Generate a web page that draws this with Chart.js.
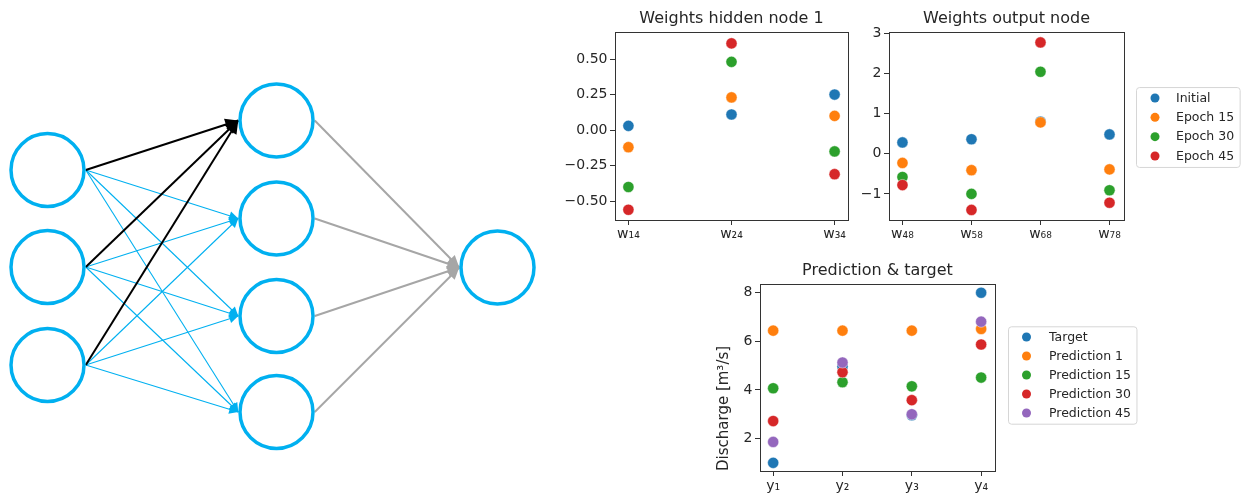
<!DOCTYPE html>
<html>
<head>
<meta charset="utf-8">
<script src="https://cdn.jsdelivr.net/npm/chart.js@4.4.1/dist/chart.umd.min.js"></script>
<style>
  html, body { margin: 0; padding: 0; background: #ffffff; width: 1244px; height: 498px; overflow: hidden; }
  canvas { position: absolute; }
</style>
</head>
<body>
<canvas id="net" width="560" height="498" style="left:0px;top:0px;width:560px;height:498px"></canvas>
<canvas id="c1" width="300" height="260" style="left:555px;top:0px;width:300px;height:260px"></canvas>
<canvas id="c2" width="389" height="260" style="left:855px;top:0px;width:389px;height:260px"></canvas>
<canvas id="c3" width="554" height="243" style="left:690px;top:255px;width:554px;height:243px"></canvas>
<script>
// ---------------- data ----------------
const hiddenCategories = ['w₁₄', 'w₂₄', 'w₃₄'];
const hiddenInitial = [0.03, 0.11, 0.25];
const hiddenEpoch15 = [-0.12, 0.23, 0.10];
const hiddenEpoch30 = [-0.40, 0.48, -0.15];
const hiddenEpoch45 = [-0.56, 0.61, -0.31];
const hiddenTickValues = [-0.5, -0.25, 0, 0.25, 0.5];
const hiddenTickLabels = ['−0.50', '−0.25', '0.00', '0.25', '0.50'];

const outputCategories = ['w₄₈', 'w₅₈', 'w₆₈', 'w₇₈'];
const outputInitial = [0.28, 0.36, 0.80, 0.48];
const outputEpoch15 = [-0.23, -0.41, 0.78, -0.39];
const outputEpoch30 = [-0.58, -1.00, 2.04, -0.91];
const outputEpoch45 = [-0.78, -1.40, 2.77, -1.22];
const outputTickValues = [-1, 0, 1, 2, 3];
const outputTickLabels = ['−1', '0', '1', '2', '3'];

const epochLabels = ['Initial', 'Epoch 15', 'Epoch 30', 'Epoch 45'];

const predCategories = ['y₁', 'y₂', 'y₃', 'y₄'];
const target = [1.0, 4.97, 2.96, 8.0];
const prediction1 = [6.44, 6.44, 6.44, 6.51];
const prediction15 = [4.07, 4.32, 4.15, 4.51];
const prediction30 = [2.72, 4.73, 3.58, 5.87];
const prediction45 = [1.86, 5.13, 3.0, 6.81];
const predTickValues = [2, 4, 6, 8];
const predTickLabels = ['2', '4', '6', '8'];
const predLabels = ['Target', 'Prediction 1', 'Prediction 15', 'Prediction 30', 'Prediction 45'];

// network diagram node layout (layer x, node y)
const layerX = [47.5, 276.5, 497.5];
const inputY = [170, 267, 365];
const hiddenY = [120.5, 218.5, 316, 412];
const outputY = [267.5];

// ---------------- styles ----------------
const FONT = "'DejaVu Sans', sans-serif";
const TEXT = '#262626';
const tab10 = ['#1f77b4', '#ff7f0e', '#2ca02c', '#d62728', '#9467bd'];
Chart.defaults.font.family = FONT;
Chart.defaults.color = TEXT;

const axesFrame = {
  id: 'axesFrame',
  afterDatasetsDraw(chart) {
    const { ctx, chartArea: a } = chart;
    ctx.save();
    ctx.strokeStyle = '#333333';
    ctx.lineWidth = 1;
    ctx.strokeRect(Math.round(a.left) + 0.5, Math.round(a.top) + 0.5,
      Math.round(a.right - a.left), Math.round(a.bottom - a.top));
    ctx.restore();
  }
};

const frameLegend = {
  id: 'frameLegend',
  afterDraw(chart, args, o) {
    const { ctx, chartArea: a } = chart;
    const ds = chart.data.datasets;
    ctx.save();
    ctx.font = o.fontSize + 'px ' + FONT;
    let maxW = 0;
    ds.forEach(d => { maxW = Math.max(maxW, ctx.measureText(d.label).width); });
    const n = ds.length;
    const h = (n - 1) * o.row + 2 * o.padY;
    const w = o.textX + maxW + o.padR;
    const x0 = a.right + o.gap;
    const y0 = (a.top + a.bottom) / 2 - h / 2 + o.shiftY;
    ctx.beginPath();
    if (ctx.roundRect) ctx.roundRect(x0 + 0.5, y0 + 0.5, w, h, 3); else ctx.rect(x0 + 0.5, y0 + 0.5, w, h);
    ctx.fillStyle = 'rgba(255,255,255,0.8)';
    ctx.fill();
    ctx.strokeStyle = '#d6d6d6';
    ctx.lineWidth = 1;
    ctx.stroke();
    ds.forEach((d, i) => {
      const cy = y0 + o.padY + i * o.row;
      ctx.beginPath();
      ctx.arc(x0 + o.markerX, cy, o.markerR, 0, Math.PI * 2);
      ctx.fillStyle = d.backgroundColor;
      ctx.fill();
      ctx.fillStyle = TEXT;
      ctx.textBaseline = 'middle';
      ctx.textAlign = 'left';
      ctx.fillText(d.label, x0 + o.textX, cy + 0.5);
    });
    ctx.restore();
  }
};

function makePanel(p) {
  const datasets = p.series.map((vals, i) => ({
    label: p.labels[i],
    data: vals.map((v, j) => ({ x: j, y: v })),
    backgroundColor: tab10[i],
    borderColor: 'rgba(255,255,255,0.75)',
    borderWidth: 0.6,
    pointRadius: 5.6,
    pointHoverRadius: 5.6,
    order: p.series.length - i
  }));
  const tickFont = { family: FONT, size: 14 };
  const gridOpts = { display: true, drawOnChartArea: false, drawTicks: true, tickLength: 5, color: '#333333', lineWidth: 1 };
  return new Chart(document.getElementById(p.id), {
    type: 'scatter',
    data: { datasets },
    plugins: p.legend ? [axesFrame, frameLegend] : [axesFrame],
    options: {
      responsive: false,
      animation: false,
      devicePixelRatio: 1,
      events: [],
      layout: { autoPadding: false, padding: { left: 0, right: p.padRight, top: 0, bottom: 0 } },
      plugins: {
        legend: { display: false },
        tooltip: { enabled: false },
        title: {
          display: true, text: p.title, fullSize: false, color: TEXT,
          font: { family: FONT, size: 16, weight: 'normal' },
          padding: p.titlePad
        },
        frameLegend: p.legend || {}
      },
      scales: {
        x: {
          type: 'linear', min: p.xMin, max: p.xMax,
          afterFit(s) { s.height = p.xHeight; },
          afterBuildTicks(s) { s.ticks = p.categories.map((c, i) => ({ value: i })); },
          ticks: { callback: (v, i) => p.categories[i], font: tickFont, color: TEXT, padding: p.xPad, maxRotation: 0, autoSkip: false },
          grid: gridOpts,
          border: { display: false }
        },
        y: {
          type: 'linear', min: p.yMin, max: p.yMax,
          afterFit(s) { s.width = p.yWidth; },
          afterBuildTicks(s) { s.ticks = p.tickValues.map(v => ({ value: v })); },
          ticks: { callback: (v, i) => p.tickLabels[i], font: tickFont, color: TEXT, padding: 2.5, autoSkip: false },
          grid: gridOpts,
          border: { display: false },
          title: p.yTitle ? { display: true, text: p.yTitle, align: 'start', color: TEXT, font: { family: FONT, size: 15 }, padding: { top: 25, bottom: 0 } } : { display: false }
        }
      }
    }
  });
}

makePanel({
  id: 'c1', title: 'Weights hidden node 1',
  categories: hiddenCategories,
  series: [hiddenInitial, hiddenEpoch15, hiddenEpoch30, hiddenEpoch45],
  labels: epochLabels,
  xMin: -0.13, xMax: 2.13, yMin: -0.632, yMax: 0.69,
  tickValues: hiddenTickValues, tickLabels: hiddenTickLabels,
  yWidth: 60, xHeight: 40, xPad: 1, padRight: 7,
  titlePad: { top: 9.4, bottom: 3.4 }
});

makePanel({
  id: 'c2', title: 'Weights output node',
  categories: outputCategories,
  series: [outputInitial, outputEpoch15, outputEpoch30, outputEpoch45],
  labels: epochLabels,
  xMin: -0.195, xMax: 3.21, yMin: -1.65, yMax: 3.03,
  tickValues: outputTickValues, tickLabels: outputTickLabels,
  yWidth: 34, xHeight: 40, xPad: 1, padRight: 120,
  titlePad: { top: 9.4, bottom: 3.4 },
  legend: { fontSize: 12.5, row: 19.3, padY: 11, textX: 40, padR: 5.5, gap: 12, shiftY: 1, markerX: 19, markerR: 4.5 }
});

makePanel({
  id: 'c3', title: 'Prediction & target',
  categories: predCategories,
  series: [target, prediction1, prediction15, prediction30, prediction45],
  labels: predLabels,
  xMin: -0.19, xMax: 3.2, yMin: 0.665, yMax: 8.36,
  tickValues: predTickValues, tickLabels: predTickLabels,
  yWidth: 70, xHeight: 27, xPad: 2, padRight: 249,
  titlePad: { top: 6, bottom: 3.8 },
  yTitle: 'Discharge [m³/s]',
  legend: { fontSize: 12.5, row: 19.0, padY: 10.7, textX: 41, padR: 5.5, gap: 13, shiftY: -2.5, markerX: 18.5, markerR: 4.5 }
});

// ---------------- network diagram ----------------
const nodeR = 36.5, nodeStroke = 3.5, edgeGap = nodeR + nodeStroke / 2;
const nodes = [
  ...inputY.map(y => ({ x: layerX[0], y })),
  ...hiddenY.map(y => ({ x: layerX[1], y })),
  ...outputY.map(y => ({ x: layerX[2], y }))
];
const edgeStyle = {
  black: { color: '#000000', width: 2, len: 13, half: 6, order: 1 },
  blue: { color: '#00B0F0', width: 1.1, len: 9, half: 4.5, order: 2 },
  gray: { color: '#A6A6A6', width: 2, len: 12, half: 5.5, order: 1 }
};
const edges = [];
inputY.forEach(yi => hiddenY.forEach((yh, h) => edges.push({
  from: { x: layerX[0] + edgeGap, y: yi }, to: { x: layerX[1] - edgeGap, y: yh }, kind: h === 0 ? 'black' : 'blue'
})));
hiddenY.forEach(yh => edges.push({
  from: { x: layerX[1] + edgeGap, y: yh }, to: { x: layerX[2] - edgeGap, y: outputY[0] }, kind: 'gray'
}));

const netDatasets = [{
  label: 'nodes', data: nodes, order: 0,
  pointRadius: nodeR, pointHoverRadius: nodeR,
  pointBackgroundColor: '#ffffff', pointBorderColor: '#00B0F0', pointBorderWidth: nodeStroke
}];
edges.forEach(e => {
  const s = edgeStyle[e.kind];
  netDatasets.push({
    label: e.kind, data: [e.from, e.to], showLine: true, order: s.order,
    borderColor: s.color, borderWidth: s.width, pointRadius: 0, pointHoverRadius: 0,
    arrow: s
  });
});

const arrowHeads = {
  id: 'arrowHeads',
  afterDatasetsDraw(chart) {
    const ctx = chart.ctx;
    const idx = chart.data.datasets.map((d, i) => i).filter(i => chart.data.datasets[i].arrow)
      .sort((a, b) => chart.data.datasets[b].arrow.order - chart.data.datasets[a].arrow.order);
    ctx.save();
    idx.forEach(i => {
      const s = chart.data.datasets[i].arrow;
      const pts = chart.getDatasetMeta(i).data;
      const p1 = pts[0], p2 = pts[pts.length - 1];
      const ang = Math.atan2(p2.y - p1.y, p2.x - p1.x);
      const bx = p2.x - s.len * Math.cos(ang), by = p2.y - s.len * Math.sin(ang);
      const nx = -Math.sin(ang) * s.half, ny = Math.cos(ang) * s.half;
      ctx.beginPath();
      ctx.moveTo(p2.x, p2.y);
      ctx.lineTo(bx + nx, by + ny);
      ctx.lineTo(bx - nx, by - ny);
      ctx.closePath();
      ctx.fillStyle = s.color;
      ctx.fill();
    });
    ctx.restore();
  }
};

new Chart(document.getElementById('net'), {
  type: 'scatter',
  data: { datasets: netDatasets },
  plugins: [arrowHeads],
  options: {
    responsive: false, animation: false, devicePixelRatio: 1, events: [],
    layout: { autoPadding: false, padding: 0 },
    plugins: { legend: { display: false }, tooltip: { enabled: false }, title: { display: false } },
    scales: {
      x: { type: 'linear', min: 0, max: 560, display: false },
      y: { type: 'linear', min: 0, max: 498, reverse: true, display: false }
    }
  }
});
</script>
</body>
</html>
